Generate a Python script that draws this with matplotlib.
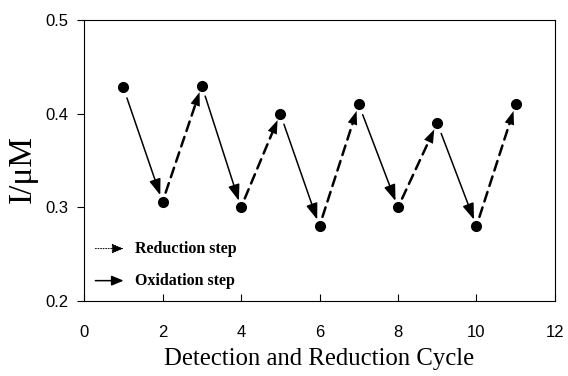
import matplotlib
matplotlib.use("Agg")
import matplotlib.pyplot as plt

cycles = [1, 2, 3, 4, 5, 6, 7, 8, 9, 10, 11]
current = [0.428, 0.306, 0.430, 0.300, 0.400, 0.280, 0.410, 0.300, 0.390, 0.280, 0.410]

xticks = [0, 2, 4, 6, 8, 10, 12]
yticks = [0.2, 0.3, 0.4, 0.5]

fig = plt.figure(figsize=(5.68, 3.76), dpi=100)
ax = fig.add_axes([0.148, 0.199, 0.829, 0.748])

ax.plot(cycles, current, 'o', color='black', markersize=7, zorder=3)

for i in range(len(cycles) - 1):
    p1 = (cycles[i], current[i])
    p2 = (cycles[i + 1], current[i + 1])
    if p2[1] < p1[1]:
        # oxidation step: solid arrow going down
        ax.annotate('', xy=p2, xytext=p1,
                    arrowprops=dict(arrowstyle='-|>,head_length=0.7,head_width=0.25',
                                    color='black', lw=1.1,
                                    shrinkA=8, shrinkB=5, mutation_scale=14))
    else:
        # reduction step: dashed shaft with a solid head
        ax.annotate('', xy=p2, xytext=p1,
                    arrowprops=dict(arrowstyle='-', color='black', lw=1.8,
                                    linestyle=(0, (4, 2.5)),
                                    shrinkA=7, shrinkB=12))
        ax.annotate('', xy=p2, xytext=p1,
                    arrowprops=dict(arrowstyle='-|>,head_length=0.7,head_width=0.25',
                                    color='black', lw=0,
                                    shrinkA=7, shrinkB=5, mutation_scale=14))

ax.set_xlim(0, 12)
ax.set_ylim(0.2, 0.5)
ax.set_xticks(xticks)
ax.set_yticks(yticks)
ax.set_xticklabels([str(t) for t in xticks], family='Liberation Sans', fontsize=12)
ax.set_yticklabels(['%.1f' % t for t in yticks], family='Liberation Sans', fontsize=12)
ax.tick_params(axis='x', direction='in', length=5, pad=17, width=0.8)
ax.tick_params(axis='y', direction='out', length=5, pad=6, width=0.8)
for s in ax.spines.values():
    s.set_linewidth(0.8)

ax.set_xlabel('Detection and Reduction Cycle', family='Liberation Serif',
              fontsize=17.8, labelpad=6)
ax.set_ylabel('I/\u03bcM', family='Liberation Serif', fontsize=24)
ax.yaxis.set_label_coords(-0.098, 0.47)

# legend drawn by hand
ax.annotate('', xy=(0.084, 0.187), xytext=(0.024, 0.187), xycoords='axes fraction',
            arrowprops=dict(arrowstyle='-|>,head_length=0.6,head_width=0.25',
                        color='black', lw=0.7, linestyle=':', shrinkA=0, shrinkB=0,
                        mutation_scale=12))
ax.text(0.108, 0.187, 'Reduction step', transform=ax.transAxes, va='center',
        family='Liberation Serif', fontweight='bold', fontsize=11.5)
ax.annotate('', xy=(0.084, 0.073), xytext=(0.024, 0.073), xycoords='axes fraction',
            arrowprops=dict(arrowstyle='-|>,head_length=0.6,head_width=0.25',
                        color='black', lw=1.1, shrinkA=0, shrinkB=0,
                        mutation_scale=12))
ax.text(0.108, 0.073, 'Oxidation step', transform=ax.transAxes, va='center',
        family='Liberation Serif', fontweight='bold', fontsize=11.5)

fig.savefig('out.png', dpi=100)
